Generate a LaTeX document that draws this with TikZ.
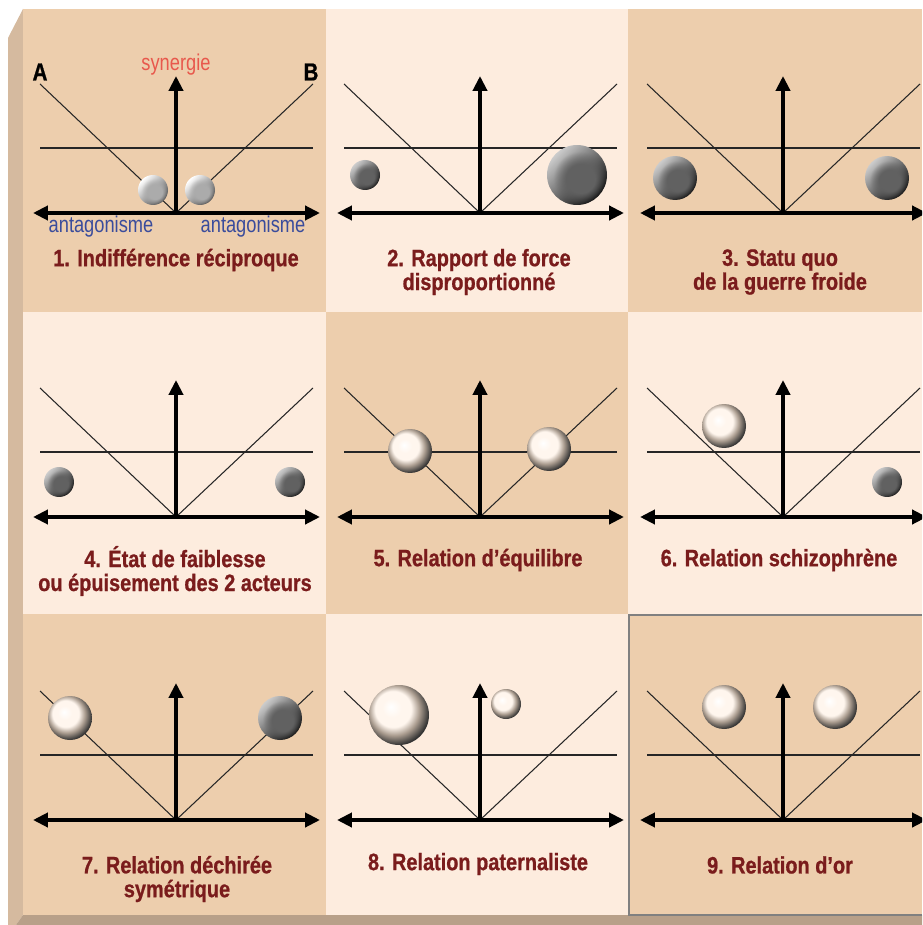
\documentclass[tikz,border=0pt]{standalone}
\usepackage{fontspec}
\newfontfamily\titlefont{Liberation Sans}[FakeStretch=0.84, BoldFeatures={FakeBold=0.8}]
\newfontfamily\labelfont{Liberation Sans}[FakeStretch=0.80]
\usetikzlibrary{arrows.meta, fadings}
\definecolor{tanD}{RGB}{237,206,173}
\definecolor{tanL}{RGB}{253,236,222}
\definecolor{bevelL}{RGB}{213,186,159}
\definecolor{bevelB}{RGB}{184,160,137}
\definecolor{titleRed}{RGB}{122,28,28}
\definecolor{antBlue}{RGB}{58,76,156}
\definecolor{synRed}{RGB}{232,88,76}
\definecolor{creamW}{RGB}{255,246,238}
\definecolor{creamG}{RGB}{170,156,143}
\pgfdeclareradialshading{creamball}{\pgfpoint{-7bp}{7bp}}{color(0bp)=(white); color(8bp)=(creamW); color(15bp)=(creamW); color(21bp)=(creamG); color(28bp)=(black!80); color(50bp)=(black)}
\pgfdeclareradialshading{coremask}{\pgfpoint{4bp}{-4bp}}{color(0bp)=(pgftransparent!0); color(12bp)=(pgftransparent!0); color(22bp)=(pgftransparent!100); color(50bp)=(pgftransparent!100)}
\pgfdeclarefading{ballcore}{\pgfuseshading{coremask}}

\begin{document}
\begin{tikzpicture}[x=0.02cm, y=-0.02cm]
   \tikzstyle{thinline}=[line width=0.6pt, black!85]
   \tikzstyle{axis}=[line width=2.3pt, black]
   \tikzstyle{tip}=[-{Triangle[length=8.5pt, width=8pt]}]
   \tikzstyle{title}=[text=titleRed, align=center, font=\titlefont\bfseries\fontsize{13.5}{13.6}\selectfont]
   \tikzstyle{lbl}=[inner sep=0pt, font=\labelfont\fontsize{13}{13}\selectfont]
   \tikzstyle{dk}=[circle, inner sep=0pt, top color=black!20, bottom color=black!95, shading angle=45, postaction={fill=black!62, path fading=ballcore}]
   \tikzstyle{sv}=[circle, inner sep=0pt, top color=white, bottom color=black!70, shading angle=45, postaction={fill=black!33, path fading=ballcore}]
   \tikzstyle{wt}=[circle, inner sep=0pt, shading=creamball]
   \useasboundingbox (0,0) rectangle (922,925);
   \fill[white] (0,0) rectangle (922,925);
   %% bevel and panel
   \fill[bevelL] (8,38) -- (23,9) -- (23,915) -- (16,925) -- (8,925) -- cycle;
   \fill[bevelB] (23,915) -- (922,915) -- (922,925) -- (16,925) -- cycle;
   \fill[tanD] (23,9) rectangle (922,915);
   \fill[tanL] (326,9) rectangle (628,312);
   \fill[tanL] (23,312) rectangle (326,614);
   \fill[tanL] (628,312) rectangle (922,614);
   \fill[tanL] (326,614) rectangle (628,915);
   \draw[gray, line width=0.6pt] (922,615) -- (629,615) -- (629,915) -- (922,915);
   %% axes
   \begin{scope}
   \clip (23,9) rectangle (922,915);
   \foreach \n/\x/\y in {1/176/213, 2/480/213, 3/783/213, 4/176/517, 5/480/517, 6/783/517, 7/176/820, 8/480/820, 9/783/820} {
      \coordinate (o\n) at (\x,\y);
      \coordinate (a\n) at (\x-136,\y-129);
      \coordinate (b\n) at (\x+137,\y-129);
      \coordinate (l\n) at (\x-136,\y-65);
      \coordinate (r\n) at (\x+137,\y-65);
      \coordinate (w\n) at (\x-143,\y);
      \coordinate (e\n) at (\x+144,\y);
      \coordinate (s\n) at (\x,\y-137);
      \draw[thinline] (a\n) -- (o\n) -- (b\n);
      \draw[thinline] (l\n) -- (r\n);
      \draw[axis, tip] (o\n) -- (s\n);
      \draw[axis, tip] (o\n) -- (w\n);
      \draw[axis, tip] (o\n) -- (e\n);
   }
   \end{scope}
   %% labels
   \node[lbl, font=\titlefont\bfseries\fontsize{14}{14}\selectfont] (A) at (40,72) {A};
   \node[lbl, font=\titlefont\bfseries\fontsize{14}{14}\selectfont] (B) at (311,72) {B};
   \node[lbl, text=synRed, anchor=base] (syn) at (176,71) {synergie};
   \node[lbl, text=antBlue, anchor=base] (antL) at (101,233) {antagonisme};
   \node[lbl, text=antBlue, anchor=base] (antR) at (253,233) {antagonisme};
   %% spheres
   \node[sv, minimum size=0.6cm] (p1) at (153,190) {};
   \node[sv, minimum size=0.6cm] (q1) at (200,190) {};
   \node[dk, minimum size=0.6cm] (p2) at (365,175) {};
   \node[dk, minimum size=1.2cm] (q2) at (577,175) {};
   \node[dk, minimum size=0.88cm] (p3) at (675,178) {};
   \node[dk, minimum size=0.88cm] (q3) at (887,178) {};
   \node[dk, minimum size=0.6cm] (p4) at (59,482) {};
   \node[dk, minimum size=0.6cm] (q4) at (290,482) {};
   \node[wt, minimum size=0.88cm] (p5) at (410,451) {};
   \node[wt, minimum size=0.88cm] (q5) at (549,449) {};
   \node[wt, minimum size=0.88cm] (p6) at (724,426) {};
   \node[dk, minimum size=0.6cm] (q6) at (887,482) {};
   \node[wt, minimum size=0.88cm] (p7) at (70,718) {};
   \node[dk, minimum size=0.88cm] (q7) at (280,718) {};
   \node[wt, minimum size=1.2cm] (p8) at (399,715) {};
   \node[wt, minimum size=0.6cm] (q8) at (506,704) {};
   \node[wt, minimum size=0.88cm] (p9) at (724,707) {};
   \node[wt, minimum size=0.88cm] (q9) at (835,707) {};
   %% titles
   \node[title] (t1) at (176,260) {1. Indifférence réciproque};
   \node[title] (t2) at (479,272) {2. Rapport de force\\disproportionné};
   \node[title] (t3) at (780,272) {3. Statu quo\\de la guerre froide};
   \node[title] (t4) at (175,571) {4. État de faiblesse\\ou épuisement des 2 acteurs};
   \node[title] (t5) at (478,560) {5. Relation d’équilibre};
   \node[title] (t6) at (779,560) {6. Relation schizophrène};
   \node[title] (t7) at (177,879) {7. Relation déchirée\\symétrique};
   \node[title] (t8) at (478,864) {8. Relation paternaliste};
   \node[title] (t9) at (780,865) {9. Relation d’or};
\end{tikzpicture}
\end{document}
